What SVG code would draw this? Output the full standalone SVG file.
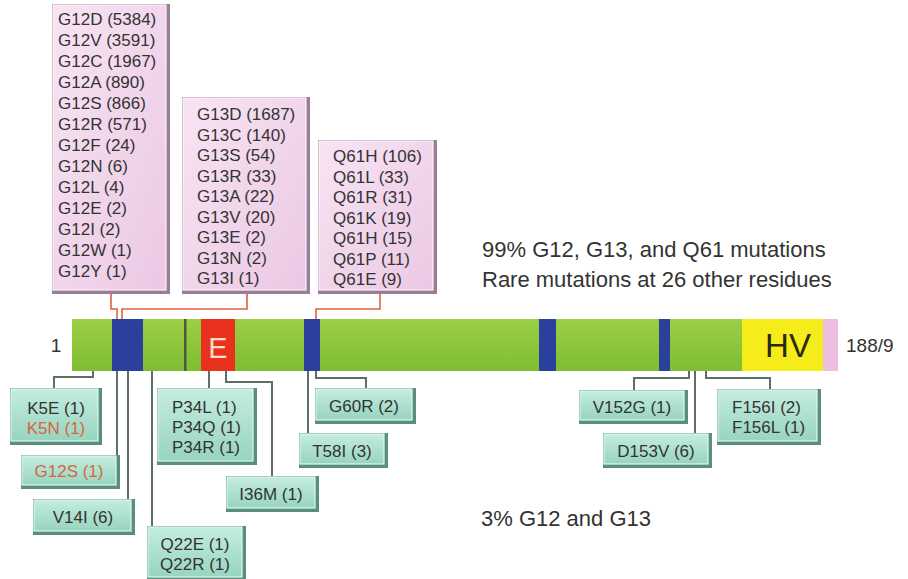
<svg xmlns="http://www.w3.org/2000/svg" width="908" height="579" viewBox="0 0 908 579">
<defs>
<linearGradient id="pkg" x1="0" y1="0" x2="1" y2="1">
<stop offset="0" stop-color="#f8e4f3"/><stop offset="1" stop-color="#ebc8e4"/>
</linearGradient>
<linearGradient id="gng" x1="0" y1="0" x2="0" y2="1">
<stop offset="0" stop-color="#c4eddf"/><stop offset="1" stop-color="#98d4bf"/>
</linearGradient>
<linearGradient id="barg" x1="0" y1="0" x2="0" y2="1">
<stop offset="0" stop-color="#9ccf45"/><stop offset="1" stop-color="#7fbd32"/>
</linearGradient>
<style>
.pb{fill:#9a7e97}
.pi{fill:url(#pkg);stroke:#fdf1fa;stroke-width:1.2}
.gb{fill:#5b8f7d}
.gi{fill:url(#gng);stroke:#dcf7ee;stroke-width:1.2}
.t{font-family:"Liberation Sans",Arial,sans-serif;font-size:17px;fill:#333}
.tc{text-anchor:middle}
.or{fill:#d8653f}
.big{font-family:"Liberation Sans",Arial,sans-serif;font-size:22px;fill:#333}
.rc{fill:none;stroke:#e0603c;stroke-width:1.6}
.gc{fill:none;stroke:#5d6f68;stroke-width:2}
</style>
</defs>

<g id="connectors">
<path class="rc" d="M111 294 V309 H117 V319"/>
<path class="rc" d="M247 294 V309 H122 V319"/>
<path class="rc" d="M380 294 V309 H316 V319"/>
<path class="gc" d="M93 371 V377 H54 V388"/>
<path class="gc" d="M117 371 V455"/>
<path class="gc" d="M128 371 V499"/>
<path class="gc" d="M152 371 V526"/>
<path class="gc" d="M209 371 V388"/>
<path class="gc" d="M226 371 V382 H272 V476"/>
<path class="gc" d="M308 371 V433"/>
<path class="gc" d="M316 371 V378 H366 V388"/>
<path class="gc" d="M689 371 V378 H634 V390"/>
<path class="gc" d="M695 371 V433"/>
<path class="gc" d="M706 371 V378 H770 V389"/>
</g>

<g id="bar">
<rect x="72" y="319" width="670" height="52" fill="url(#barg)"/>
<rect x="112" y="319" width="31" height="52" fill="#2b3f9c"/>
<rect x="184" y="319" width="2.5" height="52" fill="#4a5a3a"/>
<rect x="201" y="319" width="34" height="52" fill="#e8321e"/>
<text x="218" y="358" text-anchor="middle" font-family="'Liberation Sans',Arial,sans-serif" font-size="29" fill="#f8dccb">E</text>
<rect x="304" y="319" width="16" height="52" fill="#2b3f9c"/>
<rect x="539" y="319" width="17" height="52" fill="#2b3f9c"/>
<rect x="659" y="319" width="11" height="52" fill="#2b3f9c"/>
<rect x="742" y="319" width="81" height="52" fill="#f6ec1c"/>
<rect x="823" y="319" width="15" height="52" fill="#ebbddf"/>
<text x="788" y="357" text-anchor="middle" font-family="'Liberation Sans',Arial,sans-serif" font-size="33" fill="#2a2a12">HV</text>
<text x="56" y="352" text-anchor="middle" font-family="'Liberation Sans',Arial,sans-serif" font-size="19" fill="#333">1</text>
<text x="846" y="352" font-family="'Liberation Sans',Arial,sans-serif" font-size="19" fill="#333">188/9</text>
</g>

<g id="g12box">
<rect class="pb" x="52" y="4" width="118" height="290"/>
<rect class="pi" x="53" y="5" width="113" height="285"/>
<text class="t" x="58">
<tspan x="58" y="25">G12D (5384)</tspan>
<tspan x="58" y="46">G12V (3591)</tspan>
<tspan x="58" y="67">G12C (1967)</tspan>
<tspan x="58" y="88">G12A (890)</tspan>
<tspan x="58" y="109">G12S (866)</tspan>
<tspan x="58" y="130">G12R (571)</tspan>
<tspan x="58" y="151">G12F (24)</tspan>
<tspan x="58" y="172">G12N (6)</tspan>
<tspan x="58" y="193">G12L (4)</tspan>
<tspan x="58" y="214">G12E (2)</tspan>
<tspan x="58" y="235">G12I (2)</tspan>
<tspan x="58" y="256">G12W (1)</tspan>
<tspan x="58" y="277">G12Y (1)</tspan>
</text>
</g>

<g id="g13box">
<rect class="pb" x="182" y="97" width="128" height="197"/>
<rect class="pi" x="183" y="98" width="123" height="192"/>
<text class="t">
<tspan x="197" y="120">G13D (1687)</tspan>
<tspan x="197" y="140.5">G13C (140)</tspan>
<tspan x="197" y="161">G13S (54)</tspan>
<tspan x="197" y="181.5">G13R (33)</tspan>
<tspan x="197" y="202">G13A (22)</tspan>
<tspan x="197" y="222.5">G13V (20)</tspan>
<tspan x="197" y="243">G13E (2)</tspan>
<tspan x="197" y="263.5">G13N (2)</tspan>
<tspan x="197" y="284">G13I (1)</tspan>
</text>
</g>

<g id="q61box">
<rect class="pb" x="318" y="140" width="119" height="154"/>
<rect class="pi" x="319" y="141" width="114" height="149"/>
<text class="t">
<tspan x="333" y="162">Q61H (106)</tspan>
<tspan x="333" y="182.5">Q61L (33)</tspan>
<tspan x="333" y="203">Q61R (31)</tspan>
<tspan x="333" y="223.5">Q61K (19)</tspan>
<tspan x="333" y="244">Q61H (15)</tspan>
<tspan x="333" y="264.5">Q61P (11)</tspan>
<tspan x="333" y="285">Q61E (9)</tspan>
</text>
</g>

<g id="k5">
<rect class="gb" x="10" y="388" width="92" height="57"/>
<rect class="gi" x="11" y="389" width="87" height="52"/>
<text class="t tc" x="56" y="414">K5E (1)</text>
<text class="t tc or" x="56" y="434">K5N (1)</text>
</g>
<g id="g12s">
<rect class="gb" x="21" y="455" width="99" height="34"/>
<rect class="gi" x="22" y="456" width="94" height="29"/>
<text class="t tc or" x="69" y="477">G12S (1)</text>
</g>
<g id="v14">
<rect class="gb" x="33" y="499" width="102" height="36"/>
<rect class="gi" x="34" y="500" width="97" height="31"/>
<text class="t tc" x="83" y="523">V14I (6)</text>
</g>
<g id="q22">
<rect class="gb" x="147" y="526" width="99" height="53"/>
<rect class="gi" x="148" y="527" width="94" height="50"/>
<text class="t tc" x="195" y="550">Q22E (1)</text>
<text class="t tc" x="195" y="570">Q22R (1)</text>
</g>
<g id="p34">
<rect class="gb" x="157" y="388" width="100" height="77"/>
<rect class="gi" x="158" y="389" width="95" height="72"/>
<text class="t" x="172" y="413">P34L (1)</text>
<text class="t" x="172" y="433">P34Q (1)</text>
<text class="t" x="172" y="453">P34R (1)</text>
</g>
<g id="i36">
<rect class="gb" x="226" y="476" width="93" height="36"/>
<rect class="gi" x="227" y="477" width="88" height="31"/>
<text class="t tc" x="271" y="500">I36M (1)</text>
</g>
<g id="t58">
<rect class="gb" x="299" y="433" width="89" height="35"/>
<rect class="gi" x="300" y="434" width="84" height="30"/>
<text class="t tc" x="342" y="457">T58I (3)</text>
</g>
<g id="g60">
<rect class="gb" x="315" y="388" width="101" height="36"/>
<rect class="gi" x="316" y="389" width="96" height="31"/>
<text class="t tc" x="364" y="412">G60R (2)</text>
</g>
<g id="v152">
<rect class="gb" x="579" y="390" width="109" height="34"/>
<rect class="gi" x="580" y="391" width="104" height="29"/>
<text class="t tc" x="632" y="413">V152G (1)</text>
</g>
<g id="d153">
<rect class="gb" x="603" y="433" width="109" height="35"/>
<rect class="gi" x="604" y="434" width="104" height="30"/>
<text class="t tc" x="656" y="457">D153V (6)</text>
</g>
<g id="f156">
<rect class="gb" x="717" y="389" width="104" height="56"/>
<rect class="gi" x="718" y="390" width="99" height="51"/>
<text class="t" x="732" y="413">F156I (2)</text>
<text class="t" x="732" y="433">F156L (1)</text>
</g>

<g id="notes">
<text class="big" x="482" y="257">99% G12, G13, and Q61 mutations</text>
<text class="big" x="482" y="287">Rare mutations at 26 other residues</text>
<text class="big" x="481" y="526">3% G12 and G13</text>
</g>
</svg>
